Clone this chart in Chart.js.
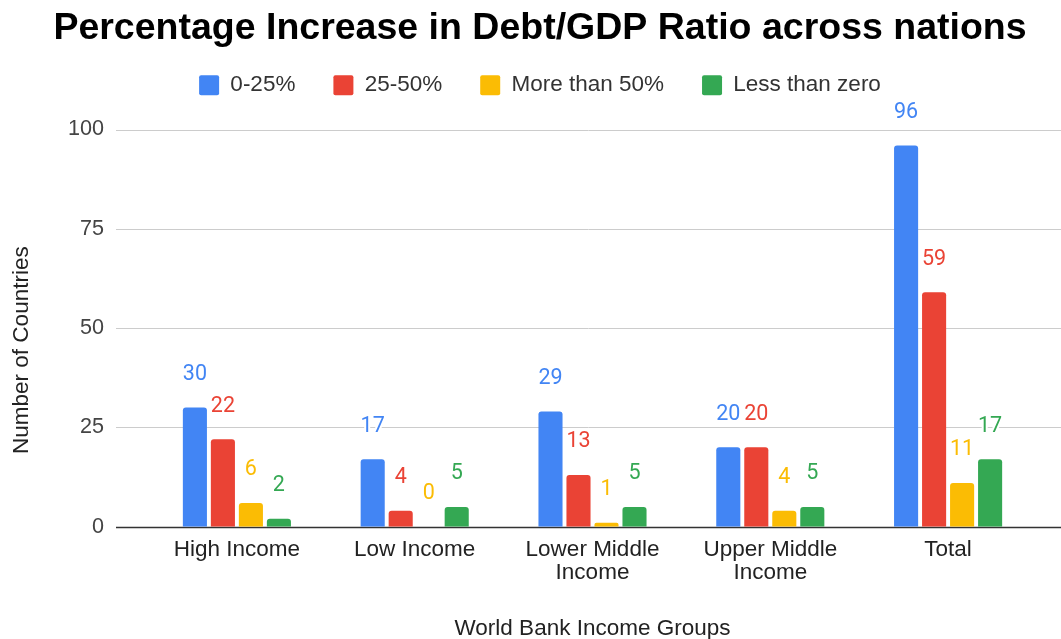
<!DOCTYPE html>
<html>
<head>
<meta charset="utf-8">
<script src="https://cdn.jsdelivr.net/npm/chart.js@4/dist/chart.umd.min.js"></script>
<style>
  html, body { margin: 0; padding: 0; background: #fff; }
  #wrap { width: 1061px; height: 639px; }
</style>
</head>
<body>
<div id="wrap"><canvas id="bars"></canvas></div>
<script>
const groups = ['High Income', 'Low Income', ['Lower Middle', 'Income'], ['Upper Middle', 'Income'], 'Total'];
const seriesNames = ['0-25%', '25-50%', 'More than 50%', 'Less than zero'];
const low = [30, 17, 29, 20, 96];
const mid = [22, 4, 13, 20, 59];
const high = [6, 0, 1, 4, 11];
const negative = [2, 5, 5, 5, 17];
const yTicks = [0, 25, 50, 75, 100];
const yTitle = 'Number of Countries';
const colors = ['#4285f4', '#ea4335', '#fbbc04', '#34a853'];

// horizontal grid drawn wider than the plot area, dark line at zero
const wideGrid = {
    id: 'wideGrid',
    beforeDatasetsDraw(chart) {
        const { ctx, chartArea, scales } = chart;
        const y = scales.y;
        ctx.save();
        yTicks.forEach(v => {
            const py = Math.round(y.getPixelForValue(v)) + 0.5;
            ctx.strokeStyle = v === 0 ? '#333333' : '#cccccc';
            ctx.lineWidth = v === 0 ? 1.5 : 1;
            ctx.beginPath();
            ctx.moveTo(chartArea.left - 32, py);
            ctx.lineTo(chart.width, py);
            ctx.stroke();
        });
        ctx.restore();
    }
};

// value labels above each bar
const barLabels = {
    id: 'barLabels',
    afterDatasetsDraw(chart) {
        const ctx = chart.ctx;
        ctx.save();
        ctx.font = '21.5px Roboto';
        ctx.textAlign = 'center';
        ctx.textBaseline = 'middle';
        ctx.lineJoin = 'round';
        chart.data.datasets.forEach((ds, i) => {
            chart.getDatasetMeta(i).data.forEach((bar, j) => {
                const txt = String(ds.data[j]);
                const py = bar.y - 33;
                ctx.strokeStyle = '#fff';
                ctx.lineWidth = 4;
                ctx.strokeText(txt, bar.x, py);
                ctx.fillStyle = colors[i];
                ctx.fillText(txt, bar.x, py);
            });
        });
        ctx.restore();
    }
};

// vertical axis title, centred a little below the middle of the plot
const sideTitle = {
    id: 'sideTitle',
    afterDraw(chart) {
        const { ctx, chartArea } = chart;
        ctx.save();
        ctx.translate(22, (chartArea.top + chartArea.bottom) / 2 + 22);
        ctx.rotate(-Math.PI / 2);
        ctx.font = '22.5px "Liberation Sans"';
        ctx.fillStyle = '#222';
        ctx.textAlign = 'center';
        ctx.textBaseline = 'middle';
        ctx.fillText(yTitle, 0, 0);
        ctx.restore();
    }
};

// extra room under the legend
const legendGap = {
    id: 'legendGap',
    beforeInit(chart) {
        const fit = chart.legend.fit;
        chart.legend.fit = function () {
            fit.call(this);
            this.height += 23;
        };
    }
};

const values = [low, mid, high, negative];
const ctx = document.getElementById('bars').getContext('2d');
const chart = new Chart(ctx, {
    type: 'bar',
    data: {
        labels: groups,
        datasets: values.map((d, i) => ({
            label: seriesNames[i],
            data: d,
            backgroundColor: colors[i],
            borderRadius: { topLeft: 3, topRight: 3 },
            borderSkipped: 'bottom',
            categoryPercentage: 0.63,
            barPercentage: 0.86
        }))
    },
    options: {
        responsive: true,
        maintainAspectRatio: false,
        animation: false,
        layout: { padding: { top: 0, right: 24, left: 43, bottom: 0 } },
        plugins: {
            title: {
                display: true,
                text: 'Percentage Increase in Debt/GDP Ratio across nations',
                color: '#000',
                font: { family: 'Liberation Sans', size: 37.5, weight: 'bold' },
                padding: { top: 6, bottom: -15 }
            },
            legend: {
                position: 'top',
                labels: {
                    color: '#333',
                    font: { family: 'Liberation Sans', size: 22.5 },
                    boxWidth: 20,
                    boxHeight: 20,
                    padding: 38,
                    useBorderRadius: true,
                    borderRadius: 2
                }
            },
            tooltip: { enabled: false }
        },
        scales: {
            x: {
                grid: { display: false },
                border: { display: false },
                ticks: {
                    color: '#222',
                    font: { family: 'Liberation Sans', size: 22.5, lineHeight: 1.05 },
                    padding: 3,
                    maxRotation: 0
                },
                title: {
                    display: true,
                    text: 'World Bank Income Groups',
                    color: '#222',
                    font: { family: 'Liberation Sans', size: 22.5 },
                    padding: { top: 27, bottom: -3 }
                }
            },
            y: {
                min: 0,
                max: 100,
                afterBuildTicks(scale) {
                    scale.ticks = yTicks.map(v => ({ value: v }));
                },
                afterFit(scale) { scale.width = 105; },
                grid: { display: false },
                border: { display: false },
                ticks: {
                    color: '#444',
                    font: { family: 'Liberation Sans', size: 21.6 },
                    padding: 36
                },
                title: { display: false }
            }
        }
    },
    plugins: [wideGrid, barLabels, sideTitle, legendGap]
});
</script>
</body>
</html>
